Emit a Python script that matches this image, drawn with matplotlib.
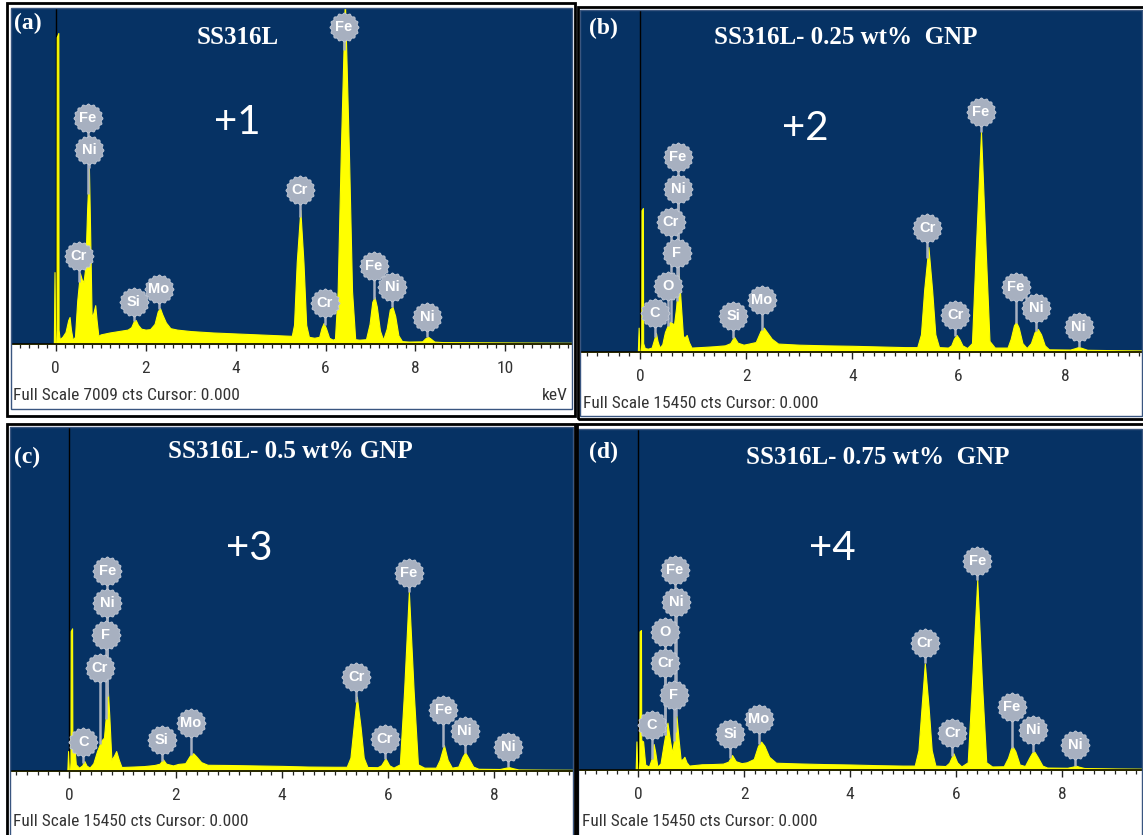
import numpy as np
import matplotlib
matplotlib.use("Agg")
import matplotlib.pyplot as plt
from matplotlib.patches import Rectangle
from matplotlib.path import Path
from matplotlib.ticker import MultipleLocator
from matplotlib import font_manager

# EDS spectra (energy in keV, counts)
energy_a = [-0.97, -0.04, -0.025, -0.01, 0.015, 0.02, 0.025, 0.06, 0.065, 0.09, 0.15, 0.22, 0.28,
            0.31, 0.34, 0.38, 0.43, 0.48, 0.54, 0.58, 0.62, 0.66, 0.70, 0.74, 0.76, 0.80, 0.84,
            0.88, 0.91, 0.95, 1.0, 1.2, 1.4, 1.6, 1.68, 1.74, 1.78, 1.83, 1.9, 2.0, 2.1, 2.2,
            2.27, 2.32, 2.37, 2.45, 2.55, 2.7, 3.0, 3.5, 4.0, 4.5, 5.0, 5.25, 5.30, 5.36, 5.44,
            5.51, 5.57, 5.63, 5.75, 5.86, 5.91, 5.96, 6.01, 6.08, 6.16, 6.21, 6.27, 6.34, 6.43,
            6.52, 6.59, 6.66, 6.75, 6.90, 6.98, 7.04, 7.09, 7.14, 7.21, 7.28, 7.36, 7.43, 7.49,
            7.55, 7.62, 7.70, 7.85, 8.15, 8.22, 8.28, 8.34, 8.42, 8.6, 9.5, 10.5, 11.48]
counts_a = [0, 0, 1500, 0, 0, 300, 6400, 6488, 300, 100, 150, 250, 500,
            563, 300, 90, 150, 900, 1480, 1350, 1290, 1600, 2800, 3670, 2700, 560, 650,
            810, 500, 170, 200, 240, 270, 300, 350, 480, 500, 400, 320, 300, 310, 420,
            680, 750, 620, 450, 330, 300, 270, 240, 220, 200, 180, 170, 400, 1700, 2795,
            1700, 400, 150, 130, 150, 330, 440, 330, 130, 90, 110, 1100, 4000, 7200,
            4000, 1100, 100, 90, 100, 420, 880, 980, 780, 280, 90, 320, 720, 772,
            580, 180, 60, 50, 55, 120, 150, 110, 50, 40, 35, 30, 25]

energy_b = [-1.11, -0.04, -0.025, -0.01, 0.015, 0.025, 0.03, 0.055, 0.06, 0.09, 0.15, 0.22, 0.27,
            0.30, 0.33, 0.37, 0.42, 0.47, 0.53, 0.57, 0.61, 0.64, 0.68, 0.73, 0.76, 0.81, 0.85,
            0.88, 0.92, 0.97, 1.2, 1.4, 1.6, 1.70, 1.77, 1.84, 1.95, 2.05, 2.18, 2.27, 2.33,
            2.39, 2.48, 2.6, 3.0, 3.5, 4.0, 4.5, 5.0, 5.22, 5.29, 5.35, 5.43, 5.50, 5.56, 5.63,
            5.80, 5.86, 5.91, 5.96, 6.01, 6.07, 6.16, 6.25, 6.32, 6.42, 6.51, 6.58, 6.68, 6.92,
            6.98, 7.04, 7.08, 7.13, 7.20, 7.28, 7.36, 7.43, 7.49, 7.55, 7.62, 7.70, 8.1, 8.2,
            8.26, 8.32, 8.42, 9.0, 9.47]
counts_b = [0, 0, 1100, 0, 0, 400, 6400, 6506, 400, 180, 150, 200, 600,
            870, 500, 200, 350, 900, 1250, 1370, 1300, 1230, 2000, 3555, 2500, 700, 680,
            770, 450, 200, 230, 260, 300, 400, 690, 420, 330, 380, 450, 950, 1100,
            900, 600, 380, 330, 300, 280, 250, 220, 220, 800, 2800, 4740, 2800, 800, 220,
            200, 300, 600, 770, 600, 300, 180, 400, 4500, 9940, 4500, 500, 200, 200,
            600, 1200, 1360, 1100, 400, 180, 400, 900, 1040, 800, 300, 120, 110, 180,
            230, 180, 100, 80, 70]

energy_c = [-1.10, -0.04, -0.025, -0.01, 0.01, 0.02, 0.025, 0.05, 0.055, 0.09, 0.12, 0.18, 0.24,
            0.28, 0.32, 0.38, 0.45, 0.52, 0.57, 0.61, 0.65, 0.69, 0.72, 0.75, 0.79, 0.84, 0.88,
            0.93, 0.98, 1.2, 1.4, 1.6, 1.70, 1.76, 1.82, 1.95, 2.05, 2.18, 2.27, 2.33, 2.39,
            2.48, 2.6, 3.0, 3.5, 4.0, 4.5, 5.0, 5.22, 5.29, 5.35, 5.41, 5.48, 5.54, 5.61, 5.80,
            5.87, 5.95, 6.02, 6.10, 6.22, 6.30, 6.39, 6.48, 6.56, 6.68, 6.90, 6.97, 7.05, 7.12,
            7.20, 7.32, 7.40, 7.45, 7.52, 7.60, 7.70, 8.1, 8.20, 8.27, 8.34, 8.45, 9.0, 9.48]
counts_c = [0, 0, 900, 0, 0, 400, 6300, 6427, 1300, 1200, 300, 150, 250,
            450, 250, 150, 350, 900, 1200, 1400, 1500, 2600, 3770, 2500, 500, 700, 900,
            500, 180, 200, 220, 270, 330, 530, 330, 250, 320, 350, 700, 800, 650,
            400, 280, 270, 250, 230, 200, 190, 190, 600, 2000, 3348, 2000, 600, 180, 170,
            260, 570, 260, 150, 300, 3600, 8077, 3600, 300, 150, 150, 500, 1170, 500,
            150, 200, 650, 840, 550, 200, 100, 90, 140, 180, 130, 70, 60, 55]

energy_d = [-1.12, -0.05, -0.035, -0.02, 0.01, 0.02, 0.025, 0.05, 0.055, 0.09, 0.13, 0.20, 0.25,
            0.29, 0.32, 0.36, 0.42, 0.48, 0.55, 0.60, 0.64, 0.68, 0.72, 0.76, 0.80, 0.84, 0.87,
            0.91, 0.96, 1.2, 1.4, 1.6, 1.70, 1.77, 1.84, 1.95, 2.05, 2.18, 2.26, 2.32, 2.38,
            2.47, 2.6, 3.0, 3.5, 4.0, 4.5, 5.0, 5.22, 5.29, 5.35, 5.41, 5.48, 5.54, 5.61, 5.80,
            5.87, 5.95, 6.02, 6.10, 6.22, 6.30, 6.40, 6.49, 6.57, 6.68, 6.90, 6.98, 7.04, 7.07,
            7.12, 7.20, 7.30, 7.38, 7.44, 7.48, 7.55, 7.63, 7.72, 8.1, 8.20, 8.26, 8.32, 8.42,
            9.0, 9.53]
counts_d = [0, 0, 1300, 0, 0, 400, 6300, 6362, 1360, 1300, 250, 150, 500,
            1180, 800, 150, 300, 1200, 2150, 1300, 770, 1500, 2470, 1400, 450, 500, 600,
            350, 200, 260, 270, 290, 380, 680, 400, 310, 350, 500, 1100, 1290, 1100,
            600, 330, 300, 270, 250, 220, 200, 200, 900, 2900, 4848, 2900, 900, 200, 180,
            330, 760, 350, 160, 350, 3900, 8634, 3900, 350, 160, 170, 550, 1000, 1060,
            850, 250, 180, 550, 800, 830, 550, 200, 110, 100, 150, 200, 150, 90,
            70, 60]

# element markers: (element, energy keV, badge height in counts)
labels_a = [("Fe", 0.715, 4708), ("Ni", 0.74, 4047), ("Cr", 0.52, 1836), ("Si", 1.74, 883),
            ("Mo", 2.30, 1141), ("Cr", 5.43, 3212), ("Cr", 5.98, 862), ("Fe", 6.40, 6619),
            ("Fe", 7.07, 1634), ("Ni", 7.48, 1196), ("Ni", 8.26, 570)]
labels_b = [("Fe", 0.71, 8824), ("Ni", 0.72, 7364), ("Cr", 0.58, 5888), ("F", 0.69, 4488),
            ("O", 0.52, 2982), ("C", 0.28, 1777), ("Si", 1.76, 1627), ("Mo", 2.29, 2349),
            ("Cr", 5.41, 5587), ("Cr", 5.94, 1672), ("Fe", 6.42, 10858), ("Fe", 7.07, 2922),
            ("Ni", 7.46, 1973), ("Ni", 8.26, 1145)]
labels_c = [("Fe", 0.71, 9008), ("Ni", 0.71, 7552), ("F", 0.68, 6125), ("Cr", 0.57, 4654),
            ("C", 0.26, 1321), ("Si", 1.74, 1396), ("Mo", 2.28, 2147), ("Cr", 5.40, 4249),
            ("Cr", 5.94, 1441), ("Fe", 6.39, 8903), ("Fe", 7.04, 2747), ("Ni", 7.44, 1802),
            ("Ni", 8.26, 1096)]
labels_d = [("Fe", 0.69, 9088), ("Ni", 0.72, 7619), ("O", 0.51, 6286), ("Cr", 0.51, 4847),
            ("F", 0.67, 3408), ("C", 0.25, 2045), ("Si", 1.74, 1621), ("Mo", 2.28, 2317),
            ("Cr", 5.41, 5756), ("Cr", 5.93, 1697), ("Fe", 6.40, 9512), ("Fe", 7.05, 2848),
            ("Ni", 7.46, 1818), ("Ni", 8.25, 1136)]

tags = ["(a)", "(b)", "(c)", "(d)"]
titles = ["SS316L", "SS316L- 0.25 wt%  GNP", "SS316L- 0.5 wt% GNP", "SS316L- 0.75 wt%  GNP"]
marks = ["+1", "+2", "+3", "+4"]
full_scale = [7009, 15450, 15450, 15450]

W, H = 1143, 835
BLUE = "#063264"
YELLOW = "#ffff00"
BADGE = "#a7b0c0"
DARK = "#333333"

# a narrow sans for the instrument text if one is installed
names = {f.name for f in font_manager.fontManager.ttflist}
narrow, small, tick_size = "Liberation Sans", 10.5, 11.5
for cand in ["Liberation Sans Narrow", "DejaVu Sans Condensed", "Roboto Condensed"]:
    if cand in names:
        narrow, small, tick_size = cand, 12.5, 12.5
        break

fig = plt.figure(figsize=(W / 100, H / 100), dpi=100)
fig.patch.set_facecolor("white")


def fx(px):
    return px / W


def fy(py):
    return 1 - py / H


def frame(x0, y0, x1, y1, color, lw):
    fig.add_artist(Rectangle((fx(x0), fy(y1)), (x1 - x0) / W, (y1 - y0) / H,
                             transform=fig.transFigure, fill=False, ec=color, lw=lw))


# scalloped badge outline
th = np.linspace(0, 2 * np.pi, 97)
rr = 1 + 0.06 * np.cos(16 * th)
badge = Path(np.column_stack([rr * np.cos(th), rr * np.sin(th)]))

# layout per panel: blue area (left, right, top, baseline) in px, outer frame, inner frame
panels = [
    dict(area=(12, 572, 8, 344), xlim=(-0.97, 11.48), outer=(7, 3, 575, 416), inner=(11, 8, 572, 409),
         tag=(28, 23), title=(238, 37), mark=(237, 122), foot=(13, 396), kev=True,
         spec=(energy_a, counts_a), labels=labels_a),
    dict(area=(581, 1143, 10, 352), xlim=(-1.11, 9.47), outer=(578, 7, 1145, 419), inner=(580, 10, 1142, 416),
         tag=(603, 28), title=(846, 37), mark=(805, 128), foot=(583, 403), kev=False,
         spec=(energy_b, counts_b), labels=labels_b),
    dict(area=(11, 573, 428, 771), xlim=(-1.10, 9.48), outer=(7, 424, 575, 838), inner=(10, 427, 573, 836),
         tag=(27, 457), title=(290, 452), mark=(249, 548), foot=(13, 822), kev=False,
         spec=(energy_c, counts_c), labels=labels_c),
    dict(area=(579, 1143, 430, 770), xlim=(-1.12, 9.53), outer=(577, 424, 1145, 838), inner=(578, 429, 1142, 836),
         tag=(603, 452), title=(878, 457), mark=(832, 548), foot=(582, 822), kev=False,
         spec=(energy_d, counts_d), labels=labels_d),
]

for i, p in enumerate(panels):
    x0, x1, yt, yb = p["area"]
    ax = fig.add_axes([fx(x0), fy(yb), (x1 - x0) / W, (yb - yt) / H])
    ax.set_facecolor(BLUE)
    ax.set_xlim(*p["xlim"])
    ax.set_ylim(0, full_scale[i])
    for s in ["top", "left", "right"]:
        ax.spines[s].set_visible(False)
    ax.spines["bottom"].set_color("black")
    ax.spines["bottom"].set_linewidth(1.2)
    ax.set_yticks([])
    ax.xaxis.set_major_locator(MultipleLocator(2))
    ax.xaxis.set_minor_locator(MultipleLocator(0.2))
    ax.tick_params(axis="x", which="major", direction="out", length=5, width=1, color="#222222",
                   pad=7, labelsize=tick_size, labelcolor=DARK, labelfontfamily=narrow)
    ax.tick_params(axis="x", which="minor", direction="out", length=3, width=0.9, color="#222222")

    ax.axvline(0, color="black", lw=1, zorder=1)
    e, c = p["spec"]
    ax.fill_between(e, c, 0, color=YELLOW, lw=0.8, zorder=2)

    for name, x, y in p["labels"]:
        ytop = np.interp(x, e, c)
        ax.plot([x, x], [y, ytop], color=BADGE, lw=1.8, zorder=3, solid_capstyle="butt")
        ax.plot(x, y, marker=badge, ms=21, mfc=BADGE, mec="#c3cad6", mew=0.6, zorder=4)
        ax.text(x, y, name, ha="center", va="center", color="white", fontsize=10.5,
                family="Liberation Sans", fontweight="bold", zorder=5)

    frame(*p["inner"], "#3a5680", 1)
    frame(*p["outer"], "black", 2)

    fig.text(fx(p["tag"][0]), fy(p["tag"][1]), tags[i], color="white", fontsize=17,
             family="Liberation Serif", fontweight="bold", ha="center", va="center")
    fig.text(fx(p["title"][0]), fy(p["title"][1]), titles[i], color="white", fontsize=18,
             family="Liberation Serif", fontweight="bold", ha="center", va="center")
    fig.text(fx(p["mark"][0]), fy(p["mark"][1]), marks[i], color="white", fontsize=29,
             family="Lato", ha="center", va="center")
    fig.text(fx(p["foot"][0]), fy(p["foot"][1]),
             "Full Scale %d cts Cursor: 0.000" % full_scale[i],
             color=DARK, fontsize=small, family=narrow, ha="left", va="center")
    if p["kev"]:
        fig.text(fx(568), fy(396), "keV", color=DARK, fontsize=small, family=narrow,
                 ha="right", va="center")

fig.savefig("out.png", dpi=100)
